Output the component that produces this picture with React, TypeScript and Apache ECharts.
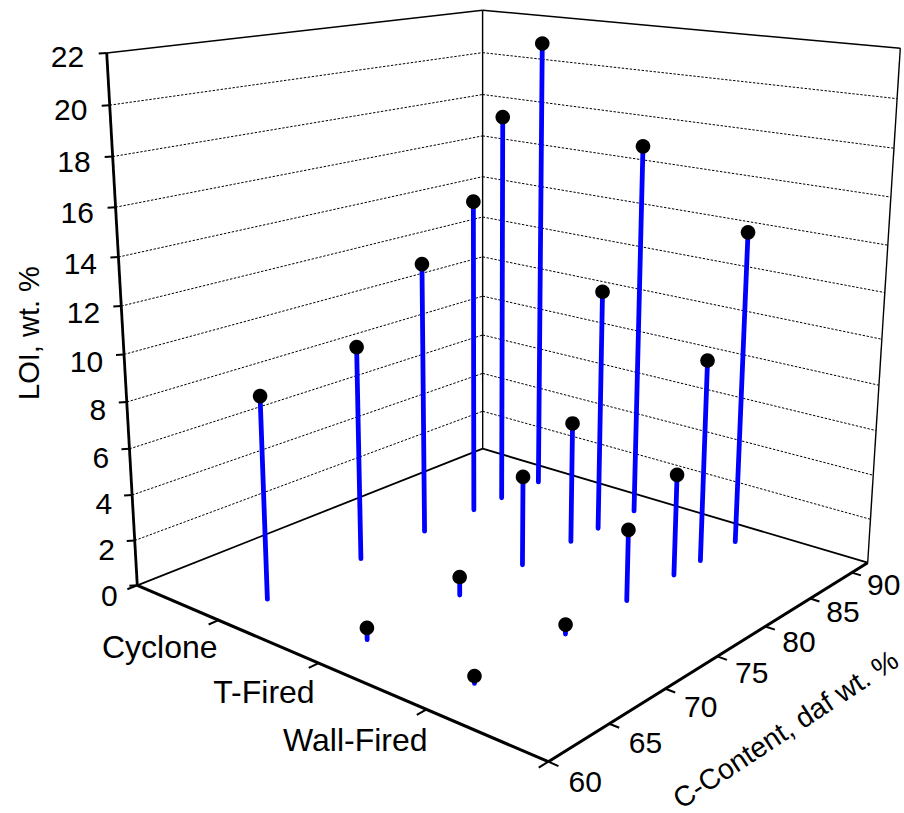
import React, { useEffect, useRef } from "react";
import * as echarts from "echarts";

const W = 904;
const H = 813;
const FONT = '"Liberation Sans", Arial, sans-serif';

// Data
const categories = ["Cyclone", "T-Fired", "Wall-Fired"];
const categoryCoord = [0.93, 1.97, 2.98];
const cContent = [63.8, 71.7, 77.6, 82.5, 85.4, 89.4];
const loiCyclone = [8.7, 9.5, 12.3, 14.5, 18.0, 21.0];
const loiTFired = [0.5, 0.8, 4.0, 5.5, 11.0, 17.0];
const loiWallFired = [0.3, 0.4, 3.1, 4.5, 9.0, 14.0];
const loiTicks = [0, 2, 4, 6, 8, 10, 12, 14, 16, 18, 20, 22];
const cTicks = [60, 65, 70, 75, 80, 85, 90];
const catAxisMax = 4;
const cAxisMin = 60;
const cAxisMax = 92;
const loiAxisMax = 22;
const catLabelDx = [-1, -4, 1];

// Perspective camera of the 3D box (screen units of the hidden cartesian axes)
function project(cat: number, c: number, loi: number): [number, number] {
  const u = cat / catAxisMax;
  const v = (c - cAxisMin) / (cAxisMax - cAxisMin);
  const t = loi / loiAxisMax;
  const w = 1 - 0.18633 * u + 0.22211 * v - 0.0811 * t;
  return [
    (308.84 * u + 452.6 * v - 39.25 * t + 137.3) / w,
    (34.47 * u - 36.94 * v - 536.7 * t + 585.3) / w,
  ];
}

const line = (a: number[], b: number[], lineWidth: number, extra: any = {}) => ({
  type: "line",
  shape: { x1: a[0], y1: a[1], x2: b[0], y2: b[1] },
  style: { stroke: "#000", lineWidth, fill: "none", ...extra },
  silent: true,
});

const label = (text: string, p: number[], fontSize: number, align = "center", rotation = 0) => ({
  type: "text",
  x: p[0],
  y: p[1],
  rotation,
  silent: true,
  style: {
    text,
    x: 0,
    y: 0,
    fill: "#000",
    font: `${fontSize}px ${FONT}`,
    textAlign: align,
    textVerticalAlign: "middle",
  },
});

export default function App() {
  const ref = useRef<HTMLDivElement>(null);

  useEffect(() => {
    const chart = echarts.init(ref.current!, undefined, { renderer: "svg" });

    const gridSeries = {
      type: "custom",
      silent: true,
      data: loiTicks.map((l) => [l, 0]),
      renderItem: (_: any, api: any) => {
        const l = api.value(0);
        const to = (p: number[]) => api.coord(p);
        const a = to(project(0, cAxisMin, l));
        const b = to(project(0, cAxisMax, l));
        const c = to(project(catAxisMax, cAxisMax, l));
        if (l === 0) return { type: "group", children: [line(a, b, 1.8), line(b, c, 1.8)] };
        if (l === loiAxisMax) return { type: "group", children: [line(a, b, 1.5), line(b, c, 1.5)] };
        const dash = { lineDash: [2.4, 1.6] };
        return { type: "group", children: [line(a, b, 1, dash), line(b, c, 1, dash)] };
      },
    };

    const frameSeries = {
      type: "custom",
      silent: true,
      data: [[0, 0]],
      renderItem: (_: any, api: any) => {
        const to = (cat: number, c: number, l: number) => api.coord(project(cat, c, l));
        return {
          type: "group",
          children: [
            line(to(0, cAxisMax, 0), to(0, cAxisMax, loiAxisMax), 1.4),
            line(to(catAxisMax, cAxisMax, 0), to(catAxisMax, cAxisMax, loiAxisMax), 1.4),
            line(to(0, cAxisMin, 0), to(0, cAxisMin, loiAxisMax), 2.8),
            line(to(0, cAxisMin, 0), to(catAxisMax, cAxisMin, 0), 3),
            line(to(catAxisMax, cAxisMin, 0), to(catAxisMax, cAxisMax, 0), 3),
          ],
        };
      },
    };

    const loiAxisSeries = {
      type: "custom",
      silent: true,
      data: loiTicks.map((l) => [l, 0]),
      renderItem: (_: any, api: any) => {
        const l = api.value(0);
        const p = api.coord(project(0, cAxisMin, l));
        const f = l / loiAxisMax;
        return {
          type: "group",
          children: [
            line(p, [p[0] - 8, p[1] + 0.5], 2),
            label(String(l), [p[0] - 19.5 - 3 * f, p[1] + 10 - 6 * f], 30, "right"),
          ],
        };
      },
    };

    const catAxisSeries = {
      type: "custom",
      silent: true,
      data: [0, ...categoryCoord, catAxisMax].map((c, i) => [c, i]),
      renderItem: (_: any, api: any) => {
        const c = api.value(0);
        const i = api.value(1);
        const p = api.coord(project(c, cAxisMin, 0));
        const q = api.coord(project(c, cAxisMin - 0.75, 0));
        const children: any[] = [line(p, q, 2)];
        const name = categories[i - 1];
        if (name) children.push(label(name, [p[0] + catLabelDx[i - 1], p[1] + 25 + 2 * i], 32, "right"));
        return { type: "group", children };
      },
    };

    const cAxisSeries = {
      type: "custom",
      silent: true,
      data: cTicks.map((c) => [c, 0]),
      renderItem: (_: any, api: any) => {
        const c = api.value(0);
        const p = api.coord(project(catAxisMax, c, 0));
        const q = api.coord(project(catAxisMax + 0.08, c, 0));
        const f = (c - 60) / 30;
        return {
          type: "group",
          children: [
            line(p, q, 2),
            label(String(c), [p[0] + 37 - 5 * f, p[1] + 20 - 8 * f], 30),
          ],
        };
      },
    };

    const titlesSeries = {
      type: "custom",
      silent: true,
      data: [[0, 0]],
      renderItem: (_: any, api: any) => ({
        type: "group",
        children: [
          label("LOI, wt. %", api.coord([29, 333]), 29, "center", Math.PI / 2),
          label("C-Content, daf wt. %", api.coord([785.5, 729]), 28.5, "center", (33.4 * Math.PI) / 180),
        ],
      }),
    };

    const rows = [loiCyclone, loiTFired, loiWallFired];
    const stemData: number[][] = [];
    rows.forEach((vals, r) =>
      vals.forEach((l, k) => stemData.push([categoryCoord[r], cContent[k], l]))
    );

    const stemSeries = {
      type: "custom",
      silent: true,
      data: stemData,
      dimensions: ["cat", "c", "loi"],
      encode: { x: 0, y: 1 },
      renderItem: (_: any, api: any) => {
        const cat = api.value(0);
        const c = api.value(1);
        const l = api.value(2);
        const base = api.coord(project(cat, c, 0));
        const top = api.coord(project(cat, c, l));
        return {
          type: "group",
          children: [
            line(base, top, 4.8, { stroke: "#0000ff", lineCap: "round" }),
            {
              type: "circle",
              shape: { cx: top[0], cy: top[1], r: 7.3 },
              style: { fill: "#000" },
              silent: true,
            },
          ],
        };
      },
    };

    chart.setOption({
      animation: false,
      backgroundColor: "#fff",
      grid: { left: 0, right: 0, top: 0, bottom: 0 },
      xAxis: { type: "value", min: 0, max: W, show: false },
      yAxis: { type: "value", min: 0, max: H, inverse: true, show: false },
      series: [gridSeries, frameSeries, loiAxisSeries, catAxisSeries, cAxisSeries, titlesSeries, stemSeries],
    });

    return () => chart.dispose();
  }, []);

  return <div ref={ref} style={{ position: "absolute", left: 0, top: 0, width: W, height: H }} />;
}
